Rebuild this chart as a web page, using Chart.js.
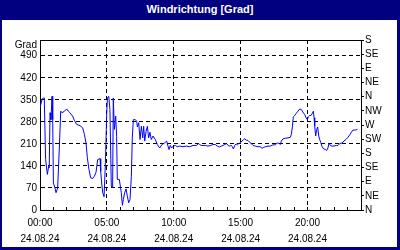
<!DOCTYPE html>
<html>
<head>
<meta charset="utf-8">
<script src="https://cdn.jsdelivr.net/npm/chart.js@4"></script>
<style>
body { margin:0; width:400px; height:250px; background:#000080; position:relative; overflow:hidden; font-family:"Liberation Sans", Arial, sans-serif; }
#title { position:absolute; left:0; top:0; width:400px; height:20px; line-height:18px; text-align:center; color:#fff; font-weight:bold; font-size:11px; }
#panel { position:absolute; left:2px; top:20px; width:395px; height:227px; background:#fff; }
#unit { position:absolute; right:363px; top:40px; font-size:10px; line-height:10px; color:#000; }
#wrap { position:absolute; left:0; top:0; width:400px; height:250px; }
</style>
</head>
<body>
<div id="title">Windrichtung [Grad]</div>
<div id="panel"></div>
<div id="wrap"><canvas id="windChart" width="400" height="250"></canvas></div>
<div id="unit">Grad</div>
<script>
// hours since 00:00 and wind direction in degrees
const hours = [
  0.00, 0.15, 0.25, 0.32, 0.42, 0.55, 0.65, 0.69, 0.75, 0.82, 0.90, 0.95,
  1.00, 1.12, 1.20, 1.32, 1.45, 1.55, 1.64, 1.84, 1.99, 2.12, 2.24, 2.44,
  2.57, 2.74, 2.99, 3.19, 3.32, 3.44, 3.54, 3.66, 3.79, 3.94, 4.06, 4.19,
  4.31, 4.49, 4.54, 4.61, 4.69, 4.79, 4.89, 4.99, 5.04, 5.14, 5.23, 5.33,
  5.43, 5.48, 5.56, 5.66, 5.73, 5.78, 5.93, 6.08, 6.16, 6.23, 6.33, 6.43,
  6.53, 6.63, 6.73, 6.83, 6.90, 6.98, 7.13, 7.23, 7.28, 7.38, 7.48, 7.58,
  7.68, 7.75, 7.83, 7.93, 8.03, 8.12, 8.22, 8.32, 8.45, 8.62, 8.77, 8.95,
  9.12, 9.32, 9.47, 9.57, 9.65, 9.74, 9.84, 9.97, 10.12, 10.27, 10.44, 10.69,
  10.94, 11.19, 11.44, 11.69, 11.86, 11.94, 12.06, 12.19, 12.36, 12.56, 12.76, 12.93,
  13.11, 13.26, 13.41, 13.56, 13.68, 13.81, 13.96, 14.06, 14.18, 14.31, 14.38, 14.46,
  14.56, 14.66, 14.76, 14.86, 14.98, 15.10, 15.23, 15.31, 15.43, 15.55, 15.68, 15.80,
  15.93, 16.10, 16.30, 16.47, 16.60, 16.73, 16.85, 17.05, 17.22, 17.42, 17.59, 17.74,
  17.89, 17.97, 18.04, 18.17, 18.34, 18.54, 18.72, 18.79, 18.87, 18.94, 19.04, 19.16,
  19.29, 19.42, 19.54, 19.66, 19.79, 19.89, 19.99, 20.06, 20.16, 20.26, 20.36, 20.44,
  20.49, 20.54, 20.61, 20.69, 20.76, 20.84, 20.91, 20.99, 21.09, 21.21, 21.33, 21.43,
  21.53, 21.61, 21.71, 21.83, 21.98, 22.15, 22.28, 22.41, 22.58, 22.73, 22.88, 23.03,
  23.18, 23.28, 23.41, 23.58, 23.73
]
const grad = [
  325, 351, 356, 356, 160, 113, 139, 134, 309, 287, 361, 287,
  86, 70, 55, 70, 203, 314, 309, 314, 321, 314, 309, 298,
  285, 272, 268, 261, 240, 213, 166, 129, 102, 100, 107, 120,
  160, 163, 123, 86, 55, 42, 150, 309, 356, 361, 319, 76,
  70, 356, 256, 298, 234, 97, 97, 55, 15, 33, 55, 67,
  44, 23, 33, 107, 229, 287, 287, 282, 264, 277, 224, 266,
  229, 266, 219, 250, 266, 229, 247, 224, 235, 224, 208, 197,
  208, 213, 219, 203, 192, 205, 197, 203, 205, 201, 203, 201,
  203, 201, 205, 205, 211, 208, 205, 205, 205, 203, 205, 208,
  208, 203, 200, 203, 205, 208, 211, 205, 203, 205, 201, 194,
  205, 210, 207, 211, 213, 219, 224, 226, 222, 221, 215, 211,
  205, 203, 201, 201, 196, 199, 201, 203, 203, 207, 207, 213,
  211, 208, 219, 226, 228, 229, 231, 240, 264, 296, 300, 307,
  314, 321, 319, 311, 303, 293, 287, 296, 300, 300, 307, 314,
  293, 266, 235, 256, 264, 235, 224, 215, 201, 194, 192, 189,
  197, 213, 205, 203, 203, 205, 205, 211, 213, 219, 224, 231,
  240, 247, 254, 254, 256
]
const dateLabel = "24.08.24"
const gradTicks = [0, 70, 140, 210, 280, 350, 420, 490]
const dirTicks = [0, 45, 90, 135, 180, 225, 270, 315, 360, 405, 450, 495, 540]
const dirLabels = ["N", "NE", "E", "SE", "S", "SW", "W", "NW", "N", "NE", "E", "SE", "S"]

const plotFont = {family: '"Liberation Sans", Arial, sans-serif', size: 10}

// short hour ticks inside the plot + top frame line
const innerTicks = {
    id: "innerTicks",
    afterDraw(chart) {
        const {ctx, chartArea: a, scales: {x}} = chart
        const al = p => Math.round(p - 0.5) + 0.5
        ctx.save()
        ctx.strokeStyle = "#000"
        ctx.lineWidth = 1
        ctx.beginPath()
        x.ticks.forEach(t => {
            const px = al(x.getPixelForValue(t.value))
            ctx.moveTo(px, a.bottom)
            ctx.lineTo(px, a.bottom - 3)
        })
        ctx.moveTo(a.left, al(a.top))
        ctx.lineTo(a.right, al(a.top))
        ctx.stroke()
        ctx.restore()
    }
}

let ctx = document.getElementById("windChart").getContext("2d")
const windChart = new Chart(ctx, {
    type: "line",
    data: {
        datasets: [{
            data: hours.map((h, i) => ({x: h, y: grad[i]})),
            borderColor: "#0000ff",
            borderWidth: 1,
            pointRadius: 0,
            tension: 0,
            fill: false,
            yAxisID: "y"
        }]
    },
    options: {
        responsive: false,
        animation: false,
        devicePixelRatio: 1,
        layout: {padding: {top: 40, left: 0, right: 0, bottom: 0}},
        plugins: {legend: {display: false}, tooltip: {enabled: false}},
        scales: {
            x: {
                type: "linear", min: 0, max: 24,
                afterFit: s => { s.height = 40 },
                ticks: {
                    stepSize: 1, autoSkip: false, maxRotation: 0, padding: 5, color: "#000",
                    font: {...plotFont, lineHeight: 1.6},
                    callback: v => v % 5 === 0 ? [String(v).padStart(2, "0") + ":00", dateLabel] : ""
                },
                grid: {
                    color: c => c.tick && c.tick.value % 5 === 0 ? "#000" : "rgba(0,0,0,0)",
                    drawTicks: false
                },
                border: {color: "#000", dash: [4, 3]}
            },
            y: {
                position: "left", min: 0, max: 540,
                afterFit: s => { s.width = 40 },
                afterBuildTicks: s => { s.ticks = gradTicks.map(v => ({value: v})) },
                ticks: {padding: 3, autoSkip: false, color: "#000", font: plotFont},
                grid: {color: "#000", drawTicks: false},
                border: {color: "#000", dash: [4, 3]}
            },
            y2: {
                position: "right", min: 0, max: 540,
                afterFit: s => { s.width = 39 },
                afterBuildTicks: s => { s.ticks = dirTicks.map(v => ({value: v})) },
                ticks: {padding: 1, autoSkip: false, color: "#000", font: plotFont, callback: (v, i) => dirLabels[i]},
                grid: {drawOnChartArea: false, tickLength: 3, color: "#000"},
                border: {color: "#000"}
            }
        }
    },
    plugins: [innerTicks]
})
</script>
</body>
</html>
